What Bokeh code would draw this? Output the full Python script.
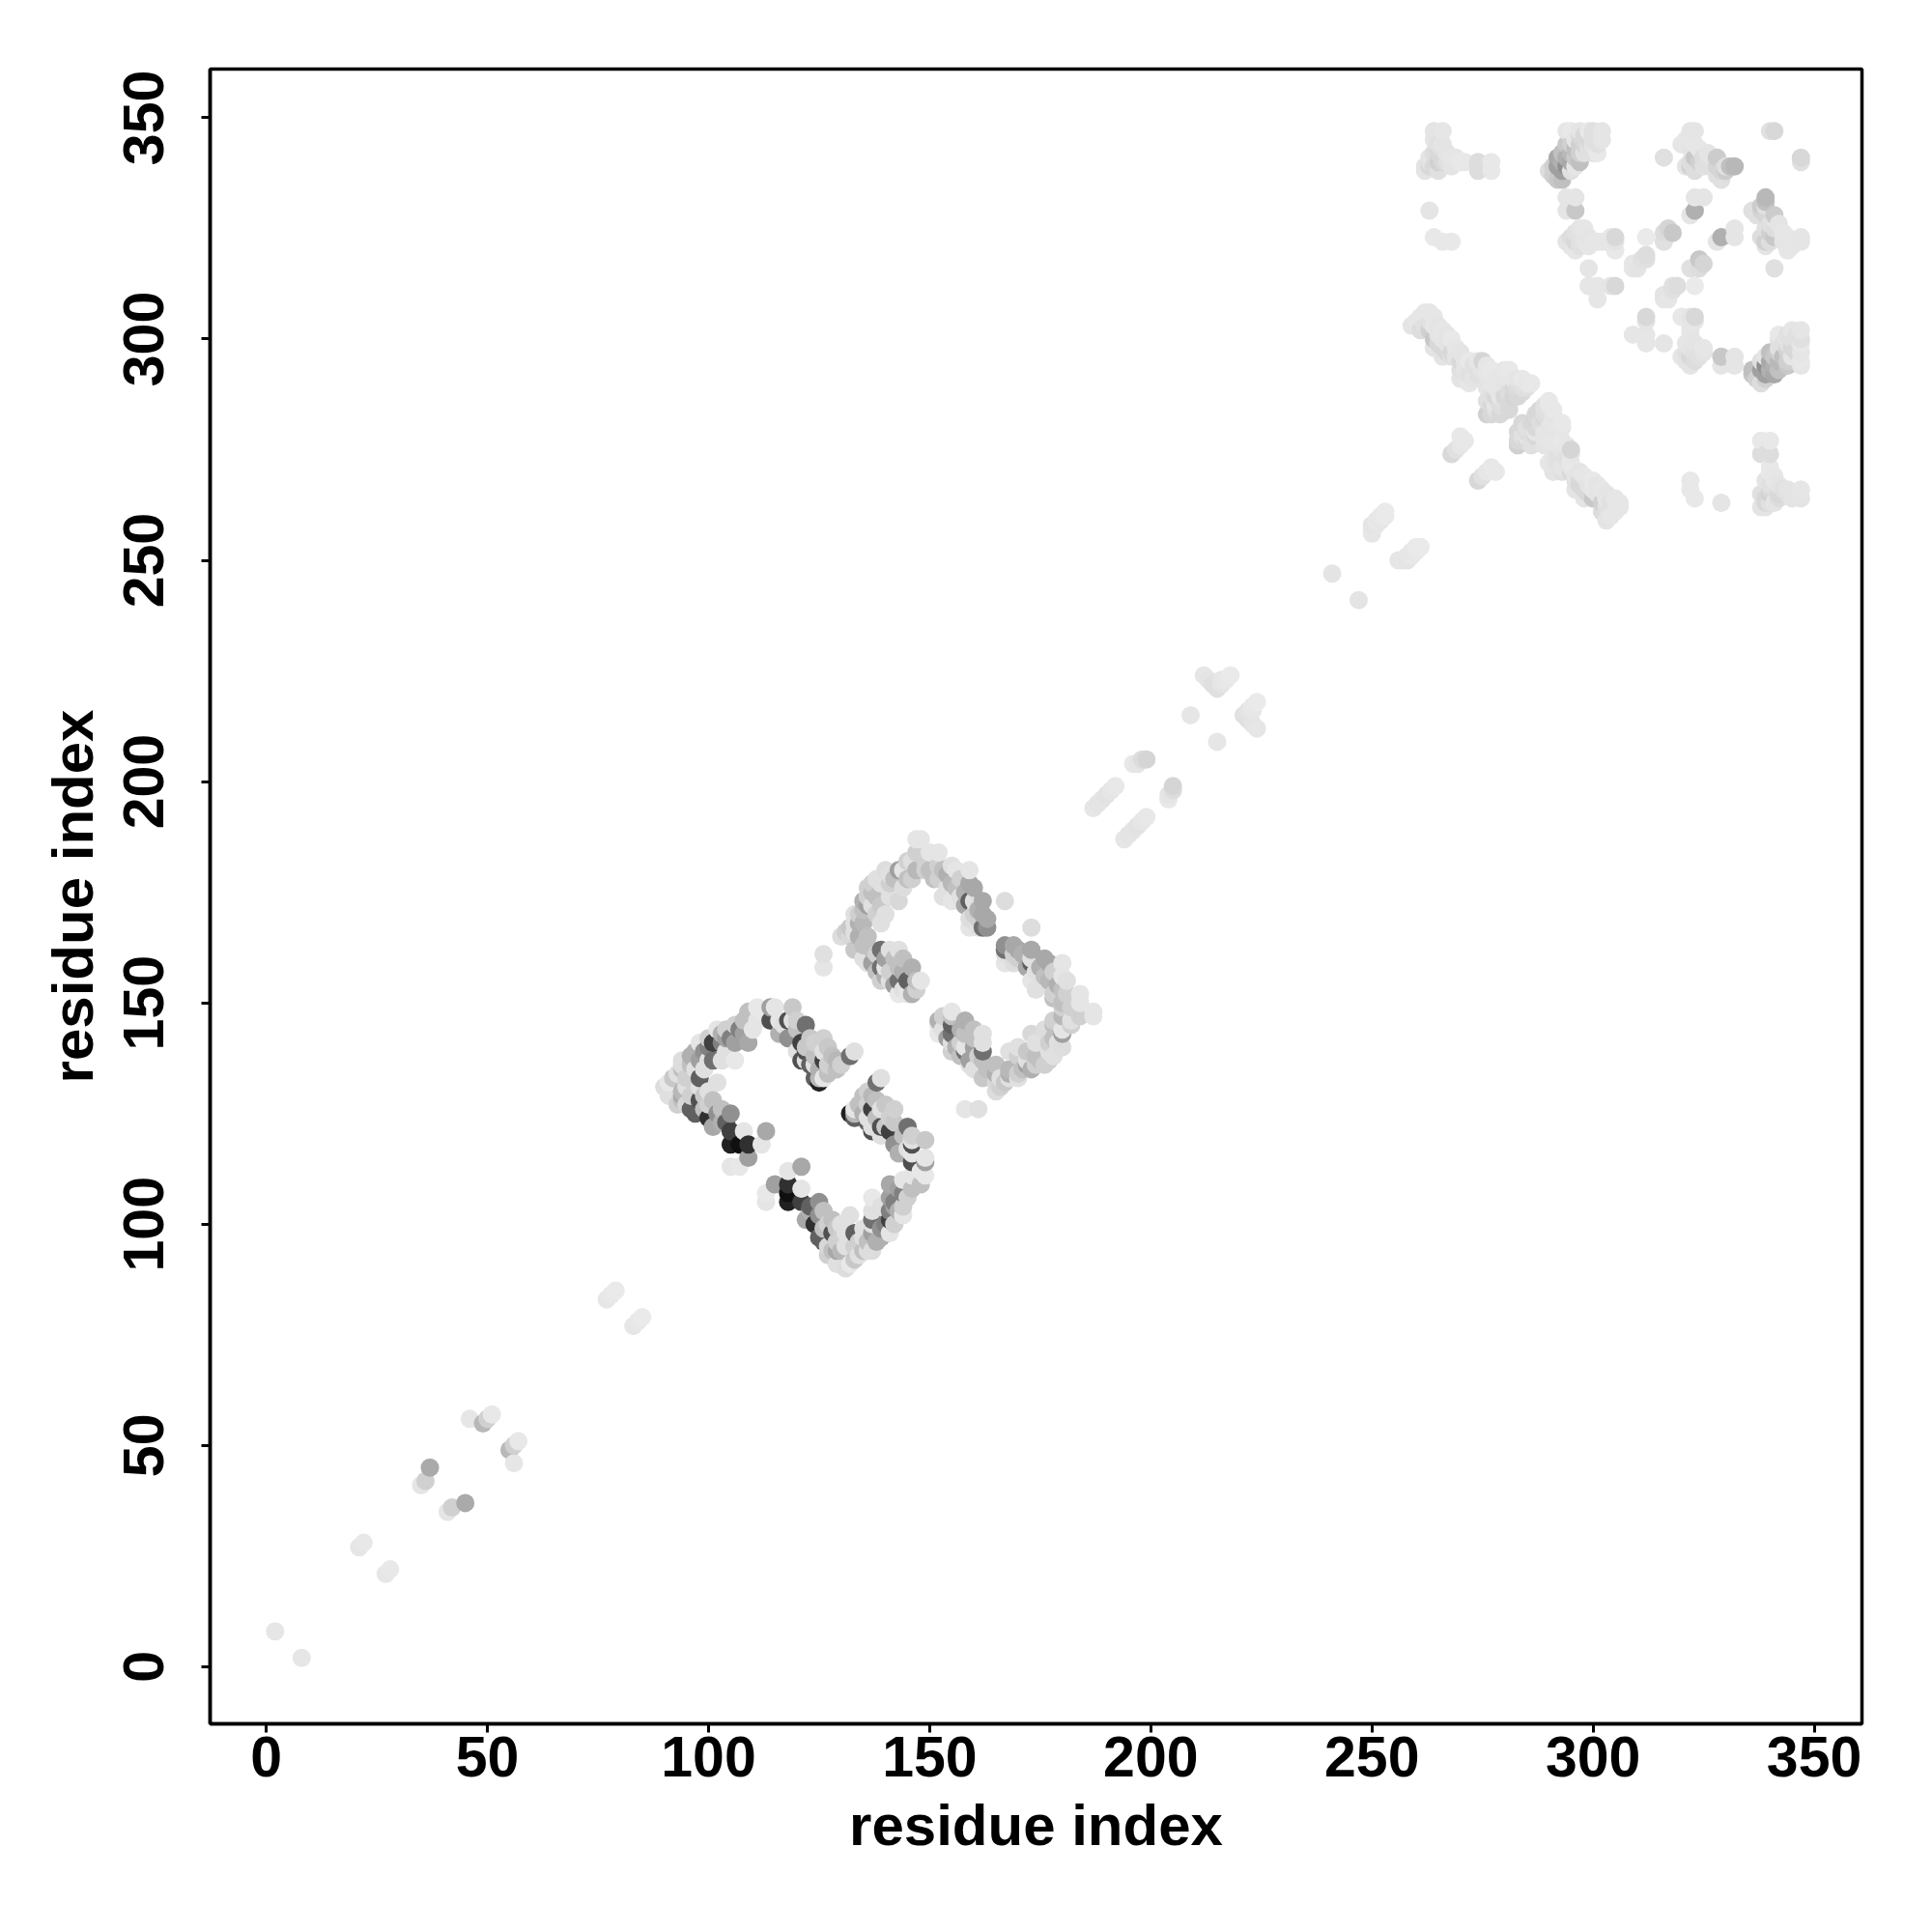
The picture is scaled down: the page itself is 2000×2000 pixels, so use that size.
from bokeh.plotting import figure
from bokeh.models import ColumnDataSource, Range1d, FixedTicker
from bokeh.embed import file_html
from bokeh.resources import INLINE

# (residue i, residue j, grey level); the map is symmetric, each contact also appears as (j, i)
cluster_n_term = [
    (2,8,0xe6),(21,27,0xe6),(22,28,0xe8),(35,41,0xe5),(36,42,0xd0),(37,45,0xaa),
    (46,56,0xe6),(49,55,0xb8),(50,56,0xd0),(51,57,0xe8),
    (77,83,0xe6),(78,84,0xe8),(79,85,0xea),
]
cluster_helix_a = [
    (91,129,0xe0),(90,131,0xdd),(91,132,0xe8),(94,128,0xc0),(94,129,0xa8),(94,130,0xb8),
    (94,135,0xc0),(94,136,0xdd),(94,137,0xdd),(97,125,0x60),(98,128,0x50),(98,131,0xe0),
    (98,133,0x60),(98,137,0xa0),(98,141,0xe5),(100,124,0x30),(101,122,0xa8),(101,128,0xc0),
    (102,132,0xe0),(101,137,0x70),(101,141,0x40),(102,125,0x90),(103,137,0xe0),(102,144,0xe5),
    (105,121,0x40),(105,125,0x90),(106,137,0xe8),(106,141,0xa0),(107,144,0x80),(106,145,0xd0),
    (107,118,0x10),(105,118,0x20),(109,118,0x30),(108,121,0xe5),(109,115,0xa0),(105,113,0xe5),
    (107,113,0xe8),(112,118,0xe5),(113,121,0xa8),(109,141,0xa8),(110,144,0xe5),(109,148,0xc0),
    (112,148,0xe8),(114,146,0x50),(114,149,0xa0),(116,146,0xe5),(115,149,0xe5),(118,146,0x50),
    (119,146,0xe0),(119,149,0xc8),(118,142,0x90),(121,141,0x40),(122,145,0x70),(123,142,0xc8),
    (121,137,0x50),(122,137,0xe0),(126,142,0xd0),(125,132,0x20),(125,133,0xb8),(126,133,0xe5),
    (126,137,0x40),(126,139,0xe0),(129,135,0xc0),(129,137,0xb8),(132,138,0x70),(133,139,0xe0),
    (92,133,0xc8),(93,134,0xe0),(95,131,0xe0),(95,133,0xd0),(96,134,0xd0),(96,136,0xc0),
    (96,138,0xb0),(97,135,0xe0),(97,139,0xb0),(99,135,0xe0),(99,139,0x90),(100,137,0xe0),
    (100,140,0x80),(100,142,0xd0),(103,141,0x80),(103,143,0xb0),(104,139,0xe0),(104,142,0xa0),
    (104,144,0xd0),(105,142,0x80),(108,146,0xc0),(108,143,0xa0),(111,146,0xe5),(111,149,0xe8),
    (93,127,0xd0),(95,127,0xd8),(96,126,0x60),(96,129,0xd0),(97,130,0xd0),(99,126,0xc0),
    (99,129,0xc8),(100,127,0xd0),(100,130,0xe0),(103,123,0xb0),(103,126,0xc0),
    (104,123,0x60),
    (116,143,0xb0),(117,145,0xe0),(120,144,0xc0),(120,146,0xd0),(120,139,0xe0),(122,140,0xc8),
    (122,139,0x50),(124,141,0xd0),(123,136,0x60),(124,136,0xe0),(124,138,0xc0),(125,135,0xb0),
    (127,136,0xd0),(127,134,0xc0),(128,138,0xc0),(127,140,0xc8),(130,136,0xd0),(124,133,0x60),
]
cluster_helix_b = [
    (126,158,0xe5),(126,161,0xe0),(130,165,0xdd),(133,162,0xc8),(134,165,0xb0),(132,165,0xd8),
    (133,166,0xe0),(133,168,0xe0),(135,168,0xb8),(136,159,0xe0),(136,165,0xc0),(136,172,0xa0),
    (136,176,0xd0),(137,162,0xc0),(137,172,0xe0),(139,155,0xd0),(139,158,0x70),(139,162,0x70),
    (140,158,0xe5),(141,162,0xe0),(143,162,0xe0),(139,168,0xe0),(139,172,0xc8),(139,177,0xe0),
    (140,180,0xdd),(143,155,0x70),(145,155,0x60),(143,158,0xc0),(146,158,0xb0),(143,152,0xe8),
    (146,152,0xb0),(148,155,0xe5),(143,173,0xd8),(144,176,0xdd),(143,180,0xa0),(144,180,0xe5),
    (147,180,0xb8),(147,184,0xd0),(147,187,0xe5),(148,187,0xe5),(150,184,0xe5),(152,184,0xe5),
    (152,181,0xd0),(152,178,0xd0),(155,177,0xb8),(155,181,0xe0),(156,180,0xe5),(159,177,0xa8),
    (159,180,0xe5),(155,173,0xe5),(159,173,0x60),(160,173,0xe0),(162,173,0xa8),(167,173,0xdd),
    (159,169,0xdd),(162,167,0x70),(163,169,0xa8),(159,167,0xe5),(161,167,0xe0),
    (131,166,0xd0),(132,167,0xc8),(133,170,0xe0),(134,168,0xb0),(134,170,0xd0),(135,171,0xc0),
    (135,173,0xb0),(136,174,0xd0),(137,175,0xc0),(137,177,0xd0),(138,174,0xc0),(138,178,0xe0),
    (138,170,0xd0),(140,170,0xe0),(141,174,0xe0),(141,177,0xd0),(141,179,0xe0),(142,178,0xc0),
    (145,178,0xc0),(145,182,0xd0),(146,182,0xe0),(146,178,0xd0),(149,182,0xd0),(149,180,0xd0),
    (135,163,0xc0),(135,160,0xe0),(137,159,0xa0),(138,161,0xd0),(138,157,0xc0),(140,156,0xb0),
    (140,160,0xa0),(141,157,0xd0),(141,155,0xe0),(142,160,0xc0),(142,154,0xa0),(144,157,0xb0),
    (144,153,0xe0),(144,160,0xc0),(145,152,0xe5),(147,155,0xc0),(147,153,0xd0),
    (150,180,0xc0),(151,178,0xc0),(153,180,0xc0),(154,179,0xb0),(154,176,0xe0),(153,174,0xe0),
    (156,176,0xc0),(157,178,0xd0),(157,174,0xe0),(158,175,0xb0),(158,172,0xa8),(160,176,0xa8),
    (160,170,0xd0),(161,171,0xb0),(161,169,0xd0),(162,170,0xa8),(163,167,0x90),
]
cluster_middle = [
    (187,194,0xe6),(188,195,0xe4),(189,196,0xe4),(190,197,0xe2),(191,198,0xe6),(192,199,0xe8),
    (196,204,0xe8),(197,204,0xe5),(198,205,0xdd),(199,205,0xd5),
    (209,215,0xe6),(212,224,0xe6),(213,223,0xe4),(214,222,0xe0),(215,221,0xe0),(216,222,0xe4),
    (216,223,0xe6),(217,223,0xe8),(218,224,0xea),
    (241,247,0xe4),(250,256,0xe6),(250,257,0xe6),(250,258,0xe4),(251,258,0xe6),(251,259,0xe8),
    (252,259,0xe6),(252,260,0xe8),(253,260,0xea),(253,261,0xea),
]
cluster_cross = [
    (259,303,0xe4),(260,304,0xe6),(261,305,0xe6),(262,306,0xe6),(263,306,0xe6),(261,302,0xdd),
    (262,303,0xe0),(263,302,0xd0),(264,303,0xe6),(264,300,0xc8),(265,301,0xe4),(265,299,0xd8),
    (266,300,0xe6),(266,298,0xd8),(267,299,0xe4),(268,300,0xe8),(268,297,0xd8),(269,298,0xe6),
    (268,296,0xe0),(269,296,0xe4),(270,295,0xd8),(271,295,0xe4),(272,295,0xe8),(273,294,0xe0),
    (274,292,0xe0),(274,295,0xe6),(275,295,0xd5),(276,294,0xe6),(275,293,0xe4),(276,292,0xe6),
    (277,293,0xe8),(278,291,0xe6),(279,291,0xe6),(280,293,0xe6),(281,293,0xe8),
    (276,283,0xd0),(277,283,0xd8),(278,284,0xe0),(279,283,0xd8),(278,285,0xe4),(280,285,0xe0),
    (281,284,0xd8),(279,287,0xe6),(281,286,0xd8),(283,287,0xd8),(278,289,0xe6),(280,290,0xe4),
    (281,288,0xdd),(283,289,0xdd),(285,289,0xe0),(282,291,0xe6),(283,291,0xe4),(284,291,0xe8),
    (285,290,0xe6),(286,290,0xe8),
    (268,274,0xd8),(269,275,0xe0),(270,276,0xe6),(271,277,0xe8),(270,278,0xe8),
    (263,304,0xe0),(264,305,0xe6),(265,303,0xe4),(266,302,0xe6),(267,301,0xe4),(267,297,0xd8),
    (270,297,0xe4),(270,293,0xe0),(271,293,0xe4),(272,292,0xe0),(273,291,0xe4),
    (266,296,0xe4),(264,298,0xe4),(270,291,0xe4),(272,290,0xe6),
    (277,285,0xd8),(277,287,0xe0),(278,287,0xd8),(279,285,0xdd),(279,289,0xe4),(279,290,0xe6),
    (280,287,0xd8),(280,291,0xe4),(281,291,0xe6),(282,287,0xd5),(282,289,0xd8),(284,288,0xd8),
    (284,289,0xe0),(277,290,0xe6),(276,289,0xe4),(276,286,0xe0),
]
cluster_top_left = [
    (262,338,0xe4),(262,339,0xe4),(263,339,0xd8),(263,340,0xe0),(263,341,0xe4),(264,339,0xd8),
    (265,338,0xe0),(265,340,0xd0),(266,340,0xd8),(267,340,0xe0),(268,339,0xe4),(264,342,0xdd),
    (265,342,0xd8),(266,343,0xe0),(267,342,0xe4),(264,345,0xe4),(265,344,0xe0),(266,344,0xe4),
    (264,347,0xe4),(266,347,0xe6),(268,341,0xe6),(269,341,0xe6),(270,340,0xe8),(271,340,0xe8),
    (274,338,0xdd),(274,339,0xdd),(274,340,0xdd),(277,338,0xe8),(277,340,0xe8),
    (263,329,0xe5),(264,323,0xe8),(266,322,0xe8),(268,322,0xe8),
]
cluster_top_middle = [
    (290,338,0xdd),(291,337,0xd0),(292,336,0xc8),(293,336,0xc0),(292,339,0xa0),(293,338,0xa0),
    (293,340,0xb0),(292,341,0xa8),(294,339,0x90),(294,341,0xb0),(295,340,0xa8),(295,342,0xb8),
    (296,343,0xc0),(295,338,0xe0),(296,339,0xe5),(297,340,0xc0),(297,342,0xd0),(298,342,0xe0),
    (298,344,0xd5),(299,343,0xe0),(300,342,0xe0),(301,342,0xe8),(296,345,0xe5),(298,346,0xd8),
    (299,345,0xd8),(300,345,0xe0),(301,344,0xe0),(301,346,0xe0),(302,345,0xe5),(294,347,0xe5),
    (295,347,0xe8),(297,347,0xe5),(299,347,0xe8),(300,347,0xe0),(302,347,0xe5),
    (291,339,0xd0),(293,342,0xc0),(294,344,0xc8),(295,344,0xd0),(296,341,0xc8),(297,344,0xd0),
    (297,346,0xd8),(298,345,0xd8),(299,344,0xe0),(300,346,0xe0),(300,344,0xe4),(301,345,0xe0),
    (294,332,0xe5),(296,332,0xe5),(294,329,0xe5),(296,329,0xc8),
    (294,322,0xe4),(295,323,0xdd),(295,321,0xe4),(296,322,0xd8),(296,324,0xe0),(296,320,0xe6),
    (297,321,0xe0),(297,323,0xe0),(297,325,0xe4),(298,322,0xe4),(298,325,0xe6),(299,323,0xe4),
    (299,321,0xe6),(300,322,0xe6),(301,322,0xe6),(302,322,0xe6),(303,322,0xe6),(304,323,0xe6),
    (305,320,0xe8),(305,322,0xe4),(305,323,0xd8),
    (299,316,0xe5),(299,312,0xe6),(301,312,0xe6),(301,309,0xe6),(304,312,0xe4),(305,312,0xd8),
]
cluster_top_right = [
    (309,316,0xe6),(309,317,0xe6),(310,316,0xe4),(311,318,0xe0),(312,318,0xe0),(312,319,0xdd),
    (312,323,0xea),(316,322,0xe0),(316,324,0xdd),(317,325,0xd5),(318,324,0xc8),
    (316,341,0xe0),(322,347,0xe5),(323,347,0xe5),(320,344,0xe6),(321,345,0xe6),(322,345,0xe6),
    (322,343,0xe4),(323,344,0xe6),(324,343,0xe6),(322,340,0xdd),(321,339,0xe4),(322,339,0xd0),
    (323,341,0xc8),(323,338,0xdd),(324,340,0xd0),(325,341,0xdd),(325,339,0xe0),(326,340,0xe0),
    (326,342,0xe4),(327,341,0xe4),(328,337,0xe0),(329,336,0xe0),(328,339,0xd5),(329,338,0xd5),
    (328,341,0xcc),(330,338,0xcc),(330,339,0xe0),(331,339,0xc0),(332,339,0xb8),
    (322,328,0xe5),(323,332,0xe5),(325,332,0xe5),(323,329,0xb0),
    (340,347,0xe0),(341,347,0xd8),
]

clusters = [cluster_n_term, cluster_helix_a, cluster_helix_b, cluster_middle,
            cluster_cross, cluster_top_left, cluster_top_middle, cluster_top_right]
tick_values = [0, 50, 100, 150, 200, 250, 300, 350]
axis_title = "residue index"

contacts = []
for cluster in clusters:
    for i, j, g in cluster:
        contacts.append((i, j, g))
        contacts.append((j, i, g))
contacts.sort()
xs = [c[0] for c in contacts]
ys = [c[1] for c in contacts]
cols = ["#%02x%02x%02x" % (c[2], c[2], c[2]) for c in contacts]

p = figure(width=1984, height=1984, output_backend="svg", toolbar_location=None,
           x_range=Range1d(-12.7, 360.8), y_range=Range1d(-12.9, 361.0),
           min_border_left=217, min_border_right=57, min_border_top=71, min_border_bottom=200)
p.background_fill_color = "white"
p.border_fill_color = "white"
p.grid.visible = False
p.outline_line_color = "black"
p.outline_line_width = 3.5
p.outline_line_alpha = 1

p.scatter("x", "y", source=ColumnDataSource(dict(x=xs, y=ys, c=cols)),
          size=19, fill_color="c", line_color=None)

for ax in (p.xaxis[0], p.yaxis[0]):
    ax.ticker = FixedTicker(ticks=tick_values)
    ax.axis_label = axis_title
    ax.axis_label_text_font = "Liberation Sans"
    ax.axis_label_text_font_style = "bold"
    ax.axis_label_text_font_size = "60px"
    ax.axis_label_text_color = "black"
    ax.major_label_text_font = "Liberation Sans"
    ax.major_label_text_font_style = "bold"
    ax.major_label_text_font_size = "59px"
    ax.major_label_text_color = "black"
    ax.axis_line_color = "black"
    ax.axis_line_width = 3.5
    ax.major_tick_line_color = "black"
    ax.major_tick_line_width = 3
    ax.major_tick_out = 9
    ax.major_tick_in = 0
    ax.minor_tick_line_color = None
p.xaxis[0].major_label_standoff = 4
p.xaxis[0].axis_label_standoff = 14
p.yaxis[0].major_label_orientation = "vertical"
p.yaxis[0].major_label_standoff = 39
p.yaxis[0].axis_label_standoff = 17

open("out.html", "w").write(file_html(p, INLINE))
